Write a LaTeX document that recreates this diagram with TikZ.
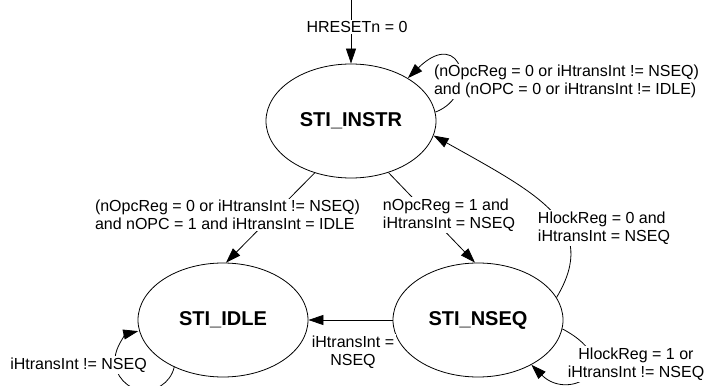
\documentclass[tikz,border=0pt]{standalone}
\usepackage{fontspec}
\setmainfont{Liberation Sans}
\usetikzlibrary{arrows.meta,shapes.geometric}
\tikzset{
  state/.style={ellipse, draw, line width=0.8pt, minimum width=170pt, minimum height=114pt,
    inner sep=0pt, font=\fontsize{20}{24}\selectfont\bfseries},
  cond/.style={fill=white, inner sep=1.5pt, font=\fontsize{16}{18}\selectfont, align=left},
  condc/.style={cond, align=center},
  trans/.style={line width=0.8pt, -{Triangle[length=15pt,width=10pt]}},
}
\begin{document}
\begin{tikzpicture}[x=1pt,y=1pt]
\useasboundingbox (0,0) rectangle (705,386);
\clip (0,0) rectangle (705,386);

% states
\node[state] (instr) at (351,265) {STI\_INSTR};
\node[state] (idle)  at (223,66)  {STI\_IDLE};
\node[state] (nseq)  at (478,66)  {STI\_NSEQ};
\coordinate (reset) at (351,386);

% transitions
\draw[trans] (reset) -- (instr.north);
\draw[trans] (instr.235.8) -- (idle.87);
\draw[trans] (instr.306.7) -- (nseq.93);
\draw[trans] (nseq.16) .. controls (600,161) and (540,191) .. (instr.350);
\draw[trans] (nseq.west) -- (idle.east);
\draw[trans] (instr.6) .. controls (480,291) and (462,361) .. (instr.37.5);
\draw[trans] (idle.224.4) arc[start angle=-13, end angle=-257, radius=30pt];
\draw[trans] (nseq.354) .. controls (630,21) and (570,-17) .. (nseq.320);

% transition conditions
\node[condc] (lreset) at (357,359) {HRESETn = 0};
\node[cond] (lidle) at (227.5,171) {(nOpcReg = 0 or iHtransInt != NSEQ)\\and nOPC = 1 and iHtransInt = IDLE};
\node[cond] (lnseq) at (449,171) {nOpcReg = 1 and\\iHtransInt = NSEQ};
\node[cond] (lback) at (604,158) {HlockReg = 0 and\\iHtransInt = NSEQ};
\node[condc] (lnseqidle) at (353,34) {iHtransInt =\\NSEQ};
\node[cond] (linstr) at (566.5,304.5) {(nOpcReg = 0 or iHtransInt != NSEQ)\\and (nOPC = 0 or iHtransInt != IDLE)};
\node[cond] (lidleloop) at (78.5,21) {iHtransInt != NSEQ};
\node[condc] (lnseqloop) at (636,22) {HlockReg = 1 or\\iHtransInt != NSEQ};
\end{tikzpicture}
\end{document}
